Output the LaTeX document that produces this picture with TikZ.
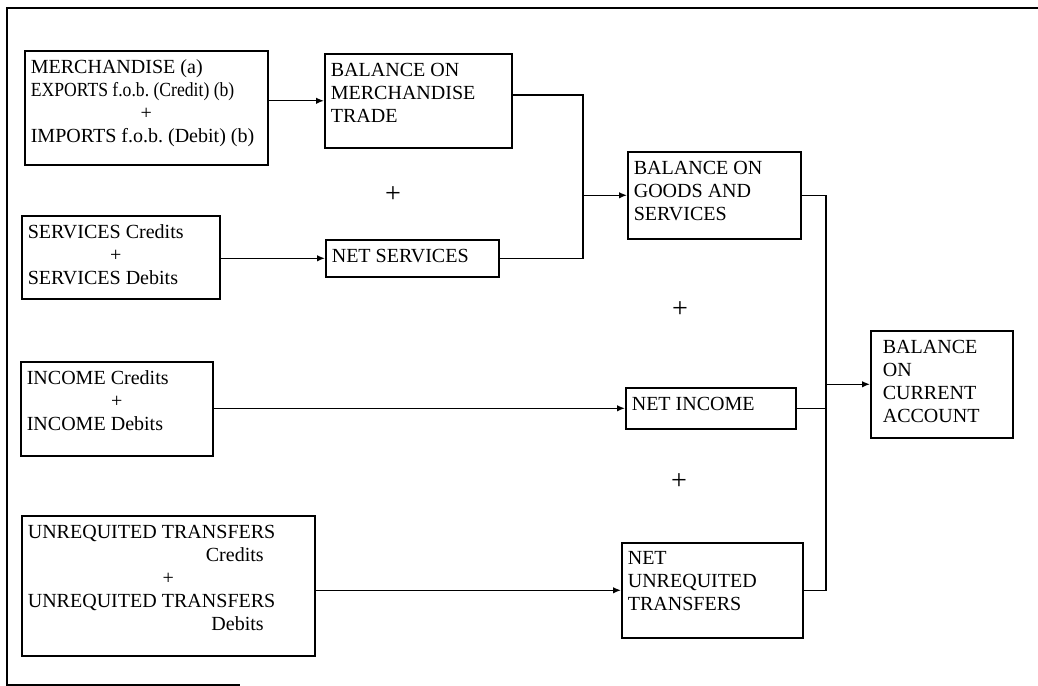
\documentclass[tikz,border=0pt]{standalone}
\usepackage{graphicx}
\usepackage{fontspec}
\setmainfont{Liberation Serif}
\usetikzlibrary{arrows.meta,positioning,calc}
\frenchspacing
\newcommand{\boxtext}[3]{\parbox[c][#2][t]{#1}{\raggedright #3}}

\begin{document}
\begin{tikzpicture}[
  x=0.02cm, y=-0.02cm,
  font=\fontsize{11.4}{13.1}\selectfont, >={Latex[length=1.6mm,width=1.3mm]},
  bx/.style={draw, line width=0.9pt, anchor=north west, inner xsep=0.12cm, inner ysep=0.18cm},
  link/.style={line width=0.8pt},
  plus/.style={font=\fontsize{16}{16}\selectfont, inner sep=0pt},
]
\useasboundingbox (0,0) rectangle (1038,686);
% frame round the page
\coordinate (fa) at (1038,8);
\coordinate (fb) at (7,8);
\coordinate (fc) at (7,685);
\coordinate (fd) at (240,685);
\draw[line width=0.9pt] (fa) -- (fb) -- (fc) -- (fd);
% credits and debits
\node[bx] (merch) at (24,50)
  {\boxtext{4.62cm}{1.92cm}{MERCHANDISE (a)\\\scalebox{0.88}[1]{EXPORTS f.o.b. (Credit) (b)}\\\makebox[\linewidth]{+}\\IMPORTS f.o.b. (Debit) (b)}};
\node[bx] (serv) at (21,215)
  {\boxtext{3.72cm}{1.30cm}{SERVICES Credits\\\makebox[\linewidth]{+\hspace{0.2cm}}\\SERVICES Debits}};
\node[bx] (inc) at (20,361)
  {\boxtext{3.60cm}{1.52cm}{INCOME Credits\\\makebox[\linewidth]{+}\\INCOME Debits}};
\node[bx] (trans) at (21,515)
  {\boxtext{5.62cm}{2.44cm}{UNREQUITED TRANSFERS\\\makebox[\linewidth][r]{Credits\hspace{0.9cm}}\\\makebox[\linewidth]{+}\\UNREQUITED TRANSFERS\\\makebox[\linewidth][r]{Debits\hspace{0.9cm}}}};
% net items
\node[bx] (bmt) at (324,53) {\boxtext{3.50cm}{1.52cm}{BALANCE ON\\MERCHANDISE\\TRADE}};
\node[bx] (nserv) at (325,239) {\boxtext{3.22cm}{0.38cm}{NET SERVICES}};
\node[bx] (bgs) at (627,151) {\boxtext{3.22cm}{1.38cm}{BALANCE ON\\GOODS AND\\SERVICES}};
\node[bx] (ninc) at (625,387) {\boxtext{3.16cm}{0.46cm}{NET INCOME}};
\node[bx] (ntrans) at (621,542) {\boxtext{3.38cm}{1.54cm}{NET\\UNREQUITED\\TRANSFERS}};
\node[bx, inner xsep=0.24cm] (bca) at (870,330) {\boxtext{2.36cm}{1.78cm}{BALANCE\\ON\\CURRENT\\ACCOUNT}};
% plus signs between the items
\node[plus] (p1) at (393,195) {+};
\node[plus] (p2) at (680,310) {+};
\node[plus] (p3) at (679,482) {+};
% flows
\draw[link,->] (merch.east |- bmt.west) -- (bmt.west);
\draw[link,->] (serv.east |- nserv.west) -- (nserv.west);
\draw[link,->] (inc.east |- ninc.west) -- (ninc.west);
\draw[link,->] (trans.east |- ntrans.west) -- (ntrans.west);
\coordinate (ja) at (583,0 |- bgs.west);
\draw[link] ($(bmt.north east)!0.44!(bmt.south east)$) -| (ja);
\draw[link] (nserv.east) -| (ja);
\draw[link,->] (ja) -- (bgs.west);
\coordinate (jb) at (826,0 |- bca.west);
\draw[link] (bgs.east) -| (jb);
\draw[link] (ninc.east) -- (ninc.east -| jb);
\draw[link] (ntrans.east) -| (jb);
\draw[link,->] (jb) -- (bca.west);
\end{tikzpicture}
\end{document}
